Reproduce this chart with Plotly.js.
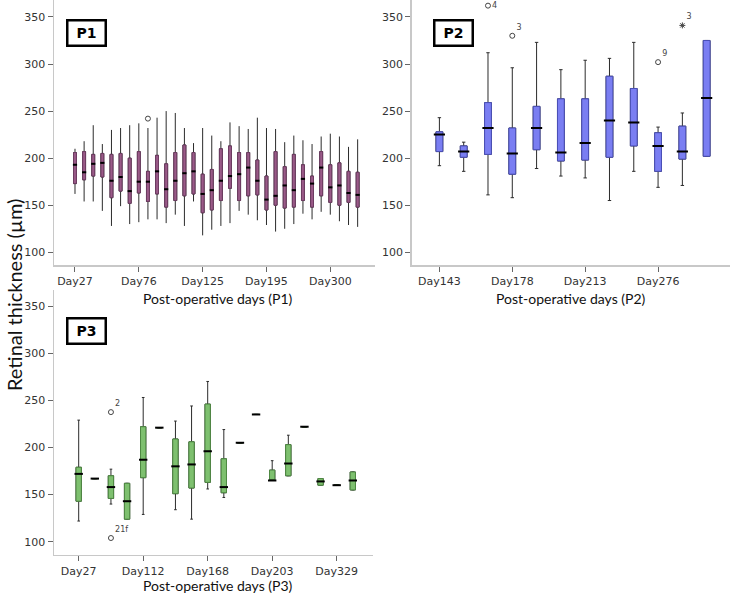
<!DOCTYPE html>
<html lang="en">
<head>
<meta charset="UTF-8">
<title>Retinal thickness by post-operative day</title>
<script src="https://cdn.plot.ly/plotly-3.0.1.min.js"></script>
<style>
    body { margin: 0; background: #fff; }
    #chart { width: 739px; height: 593px; }
</style>
</head>
<body>
<div id="chart"></div>
<script>
// P1 - 32 visits, only every 7th is labelled
const p1TickPos = [0, 7, 14, 21, 28];
const p1TickText = ['Day27', 'Day76', 'Day125', 'Day195', 'Day300'];
const p1Upper  = [210,218,235,215,230,232,235,237,232,243,250,248,232,216,232,224,218,238,234,231,243,232,231,217,224,219,215,223,226,223,212,220];
const p1Q3     = [206,207,204,205,204,205,200,207,186,203,194,206,214,206,183,188,210,213,206,206,198,181,207,191,204,193,181,207,193,195,186,185];
const p1Median = [193,185,194,195,176,180,165,175,175,186,167,176,184,186,162,166,176,181,183,190,176,156,160,171,166,178,173,190,169,171,163,161];
const p1Q1     = [173,177,181,180,158,165,152,163,154,162,148,155,160,162,142,145,155,168,155,160,161,145,150,147,148,155,148,160,153,150,153,148];
const p1Lower  = [162,154,154,144,128,149,130,132,135,135,131,140,128,154,118,124,128,131,144,140,134,129,122,125,130,141,135,143,140,133,129,127];
const p1OutPos = [8];
const p1OutVal = [242];

// P2 - 12 visits
const p2TickPos = [0, 3, 6, 9];
const p2TickText = ['Day143', 'Day178', 'Day213', 'Day276'];
const p2Upper  = [243,217,312,296,323,294,304,306,323,233,248,325];
const p2Q3     = [228,213,259,232,255,263,263,287,274,227,234,325];
const p2Median = [225,207,232,205,232,206,216,240,238,213,207,264];
const p2Q1     = [207,201,204,183,209,197,198,201,213,186,199,202];
const p2Lower  = [192,186,161,158,189,181,179,155,186,169,171,202];
const p2OutPos = [2, 3, 9];
const p2OutVal = [362, 330, 302];
const p2OutLabel = ['4', '3', '9'];
const p2ExtPos = [10];
const p2ExtVal = [341];
const p2ExtLabel = ['3'];

// P3 - 18 visits
const p3TickPos = [0, 4, 8, 12, 16];
const p3TickText = ['Day27', 'Day112', 'Day168', 'Day203', 'Day329'];
const p3Upper  = [229,167,177,162,253,221,228,244,270,219,205,235,186,213,222,167,160,174];
const p3Q3     = [179,167,170,162,222,221,209,206,246,188,205,235,176,203,222,167,160,174];
const p3Median = [172,167,158,143,187,221,180,182,196,158,205,235,165,183,222,164,160,165];
const p3Q1     = [143,167,146,124,168,221,151,157,163,152,205,235,165,170,222,160,160,155];
const p3Lower  = [122,167,140,124,129,221,134,124,156,147,205,235,165,170,222,160,160,155];
const p3OutPos = [2, 2];
const p3OutVal = [237.5, 104];
const p3OutLabel = ['2', '21f'];

const yTicks = [100, 150, 200, 250, 300, 350];
const FONT = 'DejaVu Sans, sans-serif';
const TITLE_FONT = 'Lato, sans-serif';

const idx = arr => arr.map((_, i) => i);

// whiskers in dark grey underneath, coloured box on top, black median dash
function panel(xa, ya, upper, q3, med, q1, lower, fill, edge, boxW, capW, medSize) {
    const x = idx(med);
    const common = {
        type: 'box', x: x, q1: q1, median: med, q3: q3,
        width: boxW, boxpoints: false, hoverinfo: 'skip', showlegend: false,
        xaxis: xa, yaxis: ya, fillcolor: fill
    };
    return [
        Object.assign({}, common, {
            lowerfence: lower, upperfence: upper, whiskerwidth: capW,
            line: { color: '#2b2b2b', width: 1 }
        }),
        Object.assign({}, common, {
            lowerfence: q1, upperfence: q3, whiskerwidth: 0,
            line: { color: edge, width: 1 }
        }),
        {
            type: 'scatter', mode: 'markers', x: x, y: med, xaxis: xa, yaxis: ya,
            hoverinfo: 'skip', showlegend: false,
            marker: { symbol: 'line-ew', size: medSize, line: { color: '#000', width: 2 } }
        }
    ];
}

function outliers(xa, ya, pos, val, labels, symbol, textPos) {
    return {
        type: 'scatter', mode: labels ? 'markers+text' : 'markers',
        x: pos, y: val, text: labels, textposition: textPos || 'top right',
        textfont: { size: 8, color: '#444', family: FONT },
        xaxis: xa, yaxis: ya, hoverinfo: 'skip', showlegend: false, cliponaxis: false,
        marker: { symbol: symbol, size: 5, color: '#444', line: { color: '#444', width: 1 } }
    };
}

const data = [].concat(
    panel('x', 'y', p1Upper, p1Q3, p1Median, p1Q1, p1Lower, '#9a5a88', '#6e3c62', 0.32, 0, 3),
    panel('x2', 'y2', p2Upper, p2Q3, p2Median, p2Q1, p2Lower, '#7a7ef2', '#4b50b8', 0.28, 0.5, 8),
    panel('x3', 'y3', p3Upper, p3Q3, p3Median, p3Q1, p3Lower, '#7ec06f', '#4f8a43', 0.33, 0.5, 6),
    [
        outliers('x', 'y', p1OutPos, p1OutVal, null, 'circle-open'),
        outliers('x2', 'y2', p2OutPos, p2OutVal, p2OutLabel, 'circle-open',
                 ['middle right', 'top right', 'top right']),
        outliers('x2', 'y2', p2ExtPos, p2ExtVal, p2ExtLabel, 'asterisk-open'),
        outliers('x3', 'y3', p3OutPos, p3OutVal, p3OutLabel, 'circle-open')
    ]
);

function xAxis(domain, range, vals, text, anchor) {
    return {
        domain: domain, range: range, anchor: anchor,
        tickmode: 'array', tickvals: vals, ticktext: text,
        showline: true, linecolor: '#c8c8c8', linewidth: 1.5,
        ticks: 'outside', ticklen: 5, tickcolor: '#666',
        showgrid: false, zeroline: false,
        tickfont: { family: FONT, size: 11, color: '#333' }
    };
}
function yAxis(domain, range, anchor) {
    return {
        domain: domain, range: range, anchor: anchor,
        tickmode: 'array', tickvals: yTicks,
        showline: true, linecolor: '#c8c8c8', linewidth: 1.5,
        ticks: 'outside', ticklen: 5, tickcolor: '#666',
        showgrid: false, zeroline: false,
        tickfont: { family: FONT, size: 11, color: '#333' }
    };
}

function pLabel(text, x, y) {
    return {
        text: '<b>' + text + '</b>', xref: 'paper', yref: 'paper', x: x, y: y,
        xanchor: 'center', yanchor: 'middle', showarrow: false,
        width: 30, height: 17, borderpad: 3,
        bordercolor: '#000', borderwidth: 2.5, bgcolor: '#fff',
        font: { family: FONT, size: 14, color: '#000' }
    };
}
function axisTitle(text, x, y) {
    return {
        text: text, xref: 'paper', yref: 'paper', x: x, y: y,
        xanchor: 'center', yanchor: 'middle', showarrow: false,
        font: { family: TITLE_FONT, size: 14, color: '#111' }
    };
}

const layout = {
    width: 739, height: 593,
    margin: { l: 0, r: 0, t: 0, b: 0 },
    paper_bgcolor: '#fff', plot_bgcolor: '#fff',
    boxmode: 'overlay',
    showlegend: false,
    xaxis:  xAxis([0.0731, 0.5074], [-2.3, 32.9], p1TickPos, p1TickText, 'y'),
    yaxis:  yAxis([0.5531, 1.0], [86.5, 368], 'x'),
    xaxis2: xAxis([0.5571, 0.9878], [-1.14, 11.96], p2TickPos, p2TickText, 'y2'),
    yaxis2: yAxis([0.5531, 1.0], [86.5, 368], 'x2'),
    xaxis3: xAxis([0.0731, 0.5047], [-1.53, 18.25], p3TickPos, p3TickText, 'y3'),
    yaxis3: yAxis([0.0641, 0.5110], [86, 367], 'x3'),
    annotations: [
        pLabel('P1', 0.1177, 0.9444),
        pLabel('P2', 0.6143, 0.9444),
        pLabel('P3', 0.1177, 0.4418),
        axisTitle('Post-operative days (P1)', 0.295, 0.4965),
        axisTitle('Post-operative days (P2)', 0.773, 0.4965),
        axisTitle('Post-operative days (P3)', 0.295, 0.013),
        {
            text: 'Retinal thickness (µm)', xref: 'paper', yref: 'paper',
            x: 0.019, y: 0.5025, xanchor: 'center', yanchor: 'middle',
            textangle: -90, showarrow: false,
            font: { family: TITLE_FONT, size: 20, color: '#111' }
        }
    ]
};

Plotly.newPlot('chart', data, layout, { staticPlot: true, displayModeBar: false });
</script>
</body>
</html>
